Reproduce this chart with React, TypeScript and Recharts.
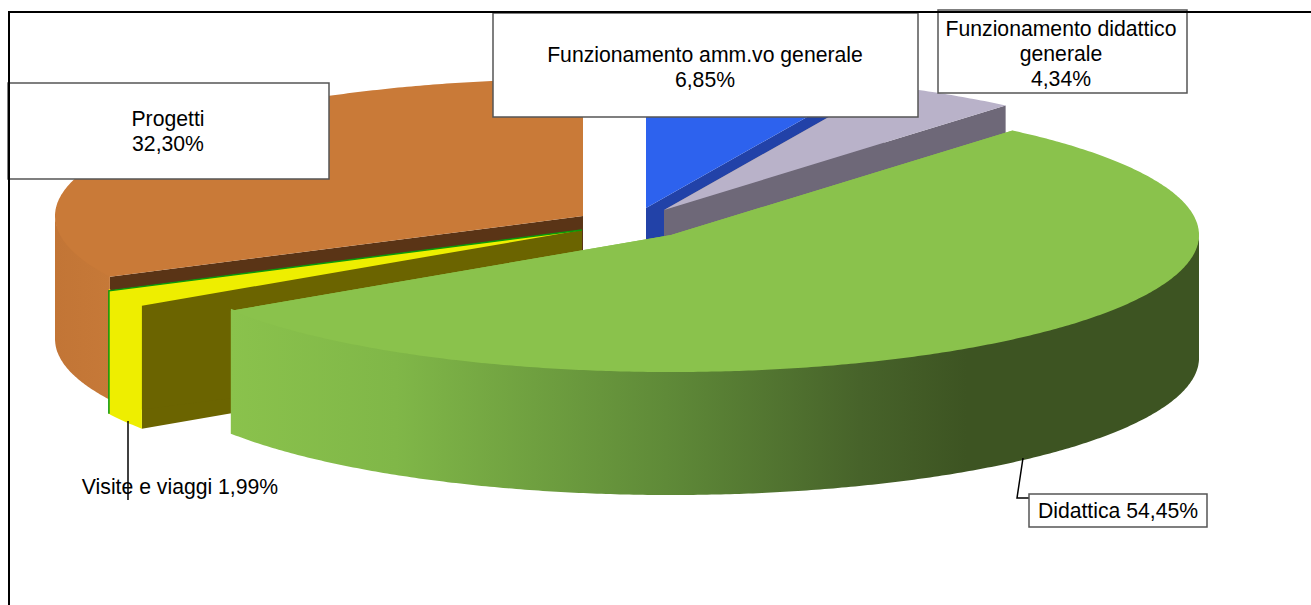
import React from 'react';
import { PieChart, Pie } from 'recharts';

// clockwise from 12 o'clock, as in the original sheet
const NAMES = ['Funzionamento amm.vo generale', 'Funzionamento didattico generale', 'Didattica', 'Visite e viaggi', 'Progetti'];
const VALUES = [6.85, 4.34, 54.45, 1.99, 32.3];

const TOP_COLORS = ['#2d62ee', '#b9b2c9', '#8ac24c', '#eeee00', '#c97a38'];
const WALL_COLORS = ['#2242a8', '#6e6878', '#8ac24c', '#6b6400', '#5a3416'];
const SIDE_STOPS: [number, string][][] = [
  [[0, '#2d62ee'], [1, '#2d62ee']],
  [[0, '#b9b2c9'], [1, '#b9b2c9']],
  [[0, '#8ac24c'], [0.17, '#80b748'], [0.45, '#5f8a38'], [0.65, '#47632a'], [0.76, '#3d5422'], [1, '#3d5422']],
  [[0, '#eeee00'], [1, '#eeee00']],
  [[0, '#c27536'], [1, '#c67938']],
];
// exploded slices: shift of each slice from the pie centre
const EXPLODE: [number, number][] = [[18, -14], [36, -12], [43, 13], [-46, 8], [-45, -6]];
// paint order, back to front
const LAYERS = [1, 1, 2, 1, 0];

const WIDTH = 1311;
const HEIGHT = 605;
const CX = 628;
const CY = 222;
const RADIUS = 528;
const SQUASH = 0.2595;
const DEPTH = 123;
const FONT = '"Liberation Sans", Arial, sans-serif';

const data = NAMES.map((name, i) => ({ name, value: VALUES[i], i }));

const pct = (v: number) => v.toFixed(2).replace('.', ',') + '%';

function SliceShape(props: any, layer: number) {
  const { startAngle, endAngle, payload } = props;
  const i = payload?.i ?? props.i ?? props.index;
  if (LAYERS[i] !== layer) return <g />;

  const ax = CX + EXPLODE[i][0];
  const ay = CY + EXPLODE[i][1];
  const rim = (deg: number, dy = 0): [number, number] => {
    const a = (deg * Math.PI) / 180;
    return [ax + RADIUS * Math.cos(a), ay - RADIUS * SQUASH * Math.sin(a) + dy];
  };
  const toPath = (pts: [number, number][]) =>
    'M' + pts.map((p) => p[0].toFixed(1) + ' ' + p[1].toFixed(1)).join('L') + 'Z';

  // angles run downward from startAngle to endAngle
  const arc: number[] = [];
  const steps = Math.max(2, Math.ceil(Math.abs(startAngle - endAngle) * 2));
  for (let k = 0; k <= steps; k++) arc.push(startAngle + ((endAngle - startAngle) * k) / steps);

  const top = toPath([[ax, ay], ...arc.map((d) => rim(d))]);
  const wall = (deg: number) =>
    toPath([[ax, ay], rim(deg), rim(deg, DEPTH), [ax, ay + DEPTH]]);
  const frontArc = arc.filter((d) => Math.sin((d * Math.PI) / 180) <= 0);
  // side starts a little under the top face so no seam shows
  const side = frontArc.length > 1
    ? toPath([...frontArc.map((d) => rim(d, -2)), ...[...frontArc].reverse().map((d) => rim(d, DEPTH))])
    : null;
  const gradId = 'side' + i;
  const endRim = rim(endAngle);

  return (
    <g>
      <defs>
        <linearGradient id={gradId} x1="0" y1="0" x2="1" y2="0">
          {SIDE_STOPS[i].map(([o, c]) => <stop key={o} offset={o} stopColor={c} />)}
        </linearGradient>
      </defs>
      <path d={wall(startAngle)} fill={WALL_COLORS[i]} />
      <path d={wall(endAngle)} fill={WALL_COLORS[i]} />
      {side && <path d={side} fill={`url(#${gradId})`} />}
      <path d={top} fill={TOP_COLORS[i]} />
      {i === 3 && (
        <path
          d={`M${ax} ${ay}L${endRim[0]} ${endRim[1]}L${endRim[0]} ${endRim[1] + DEPTH}`}
          fill="none" stroke="#0a9a0a" strokeWidth={1.5}
        />
      )}
    </g>
  );
}

function Box({ x, y, w, h }: { x: number; y: number; w: number; h: number }) {
  return <rect x={x} y={y} width={w} height={h} fill="#fff" stroke="#555" strokeWidth={1.5} />;
}

function Lines({ x, ys, lines }: { x: number; ys: number[]; lines: string[] }) {
  return (
    <>
      {lines.map((t, k) => (
        <text key={k} x={x} y={ys[k]} textAnchor="middle" fontFamily={FONT} fontSize={21.2} fill="#000">{t}</text>
      ))}
    </>
  );
}

function renderLabel(props: any) {
  const i = props.payload?.i ?? props.index;
  const v = pct(VALUES[i]);
  if (i === 0) return (
    <g>
      <Box x={493} y={13} w={425} h={104} />
      <Lines x={705} ys={[62, 87]} lines={[NAMES[0], v]} />
    </g>
  );
  if (i === 1) return (
    <g>
      <Box x={938} y={10} w={249} h={83} />
      <Lines x={1061} ys={[36, 61, 86]} lines={['Funzionamento didattico', 'generale', v]} />
    </g>
  );
  if (i === 2) return (
    <g>
      <path d="M1023 458L1017 498L1029 498" fill="none" stroke="#000" strokeWidth={1.5} />
      <Box x={1029} y={494} w={178} h={33} />
      <Lines x={1118} ys={[518]} lines={[`${NAMES[2]} ${v}`]} />
    </g>
  );
  if (i === 3) return (
    <g>
      <path d="M128 421L128 500" fill="none" stroke="#000" strokeWidth={1.5} />
      <Lines x={180} ys={[494]} lines={[`${NAMES[3]} ${v}`]} />
    </g>
  );
  return (
    <g>
      <Box x={8} y={83} w={321} h={96} />
      <Lines x={168} ys={[126, 151]} lines={[NAMES[4], v]} />
    </g>
  );
}

export default function App() {
  return (
    <div style={{ position: 'absolute', left: 0, top: 0, width: WIDTH, height: HEIGHT, overflow: 'hidden', background: '#fff' }}>
      <PieChart width={WIDTH} height={HEIGHT} margin={{ top: 0, right: 0, bottom: 0, left: 0 }}>
        {[0, 1, 2].map((layer) => (
          <Pie
            key={layer}
            data={data} dataKey="value" nameKey="name"
            cx={CX} cy={CY} outerRadius={RADIUS} startAngle={90} endAngle={-270}
            stroke="none" isAnimationActive={false} labelLine={false}
            shape={(p: any) => SliceShape(p, layer)}
            label={layer === 2 ? renderLabel : false}
          />
        ))}
      </PieChart>
      <div style={{ position: 'absolute', left: 8, top: 11, right: 0, bottom: 0, borderLeft: '2px solid #000', borderTop: '2px solid #000', pointerEvents: 'none' }} />
    </div>
  );
}
